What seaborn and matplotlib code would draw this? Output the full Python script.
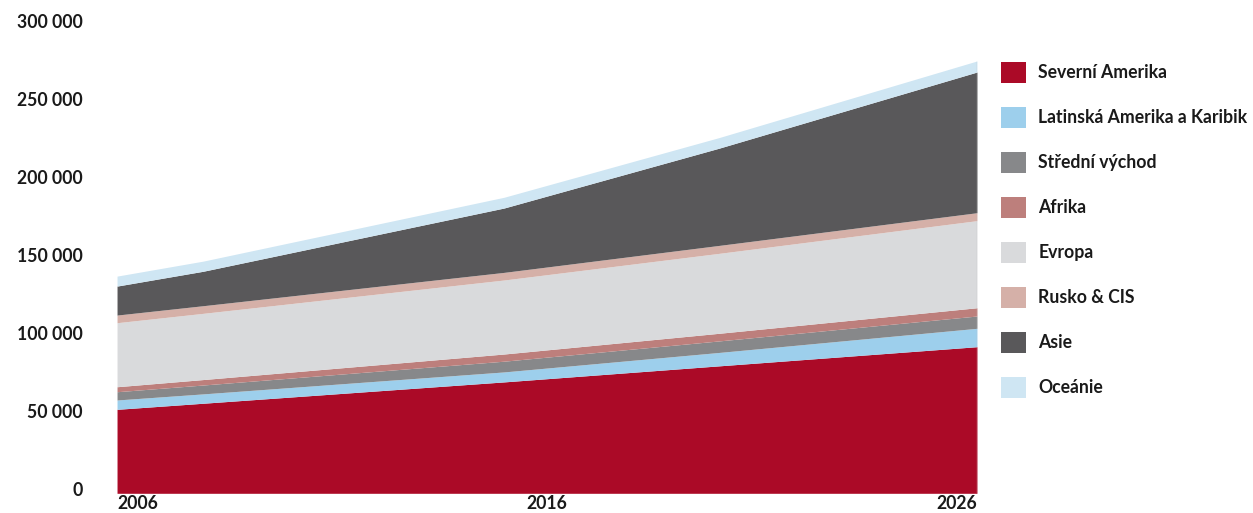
import matplotlib
matplotlib.use("Agg")
import matplotlib.pyplot as plt
import matplotlib.transforms as mtransforms
import seaborn as sns
from matplotlib.patches import Patch

# Regional figures by year (stacked from the bottom up)
years = [2006, 2008, 2015, 2020, 2026]
severni_amerika = [53900, 57800, 71500, 81800, 94100]
latinska_amerika = [6000, 6000, 6400, 8600, 11800]
stredni_vychod = [5300, 5700, 6900, 7400, 7900]
afrika = [3200, 3500, 4600, 4900, 5300]
evropa = [41100, 42500, 47500, 51300, 55900]
rusko_cis = [4900, 4900, 4900, 5100, 5100]
asie = [18600, 22100, 41300, 62400, 90300]
oceanie = [6400, 6500, 6900, 6800, 7100]

regions = ["Severní Amerika", "Latinská Amerika a Karibik", "Střední východ",
           "Afrika", "Evropa", "Rusko & CIS", "Asie", "Oceánie"]
colors = ["#ab0a27", "#9dcfec", "#87888a", "#bd7f7c",
          "#d9dadc", "#d5b0a8", "#59585a", "#cfe6f3"]

y_ticks = [0, 50000, 100000, 150000, 200000, 250000, 300000]
y_tick_labels = ["0", "50 000", "100 000", "150 000", "200 000", "250 000", "300 000"]
x_ticks = [2006, 2016, 2026]
x_tick_labels = ["2006", "2016", "2026"]

sns.set_theme(style="white")
plt.rcParams["font.family"] = ["Lato", "DejaVu Sans"]

palette = sns.color_palette(colors)

fig = plt.figure(figsize=(12.53, 5.13), dpi=100)
ax = fig.add_axes([0.0934, 0.0384, 0.6863, 0.9111])

series = [severni_amerika, latinska_amerika, stredni_vychod, afrika,
          evropa, rusko_cis, asie, oceanie]
ax.stackplot(years, *series, colors=palette, linewidth=0)

# thin grey edge closing the stack on the right
total_last = sum(s[-1] for s in series)
ax.vlines(years[-1], 0, total_last, color="#bdbdbd", linewidth=0.9)

ax.set_xlim(2006, 2026)
ax.set_ylim(0, 300000)
ax.set_yticks(y_ticks)
ax.set_yticklabels(y_tick_labels, fontsize=12.7, fontweight="bold", color="#1a1a1a")
ax.set_xticks(x_ticks)
ax.set_xticklabels(x_tick_labels, fontsize=12.7, fontweight="bold", color="#1a1a1a")
for lbl, ha in zip(ax.get_xticklabels(), ["left", "center", "right"]):
    lbl.set_ha(ha)
ax.tick_params(axis="y", length=0, pad=25)
ax.tick_params(axis="x", length=0, pad=1.5)
lift = mtransforms.ScaledTranslation(0, 3 / 100, fig.dpi_scale_trans)
for lbl in ax.get_yticklabels():
    lbl.set_va("center")
    lbl.set_transform(lbl.get_transform() + lift)
sns.despine(ax=ax, left=True, bottom=True, right=True, top=True)
ax.grid(False)

handles = [Patch(facecolor=c, edgecolor="none") for c in palette]
leg = ax.legend(handles, regions, loc="upper left", bbox_to_anchor=(0.799, 0.879),
                bbox_transform=fig.transFigure, frameon=False,
                prop={"size": 12.7, "weight": "bold"},
                handlelength=1.4, handleheight=1.45, handletextpad=0.7,
                labelspacing=1.36, borderaxespad=0, borderpad=0)
for t in leg.get_texts():
    t.set_color("#1a1a1a")

fig.savefig("out.png", dpi=100)
